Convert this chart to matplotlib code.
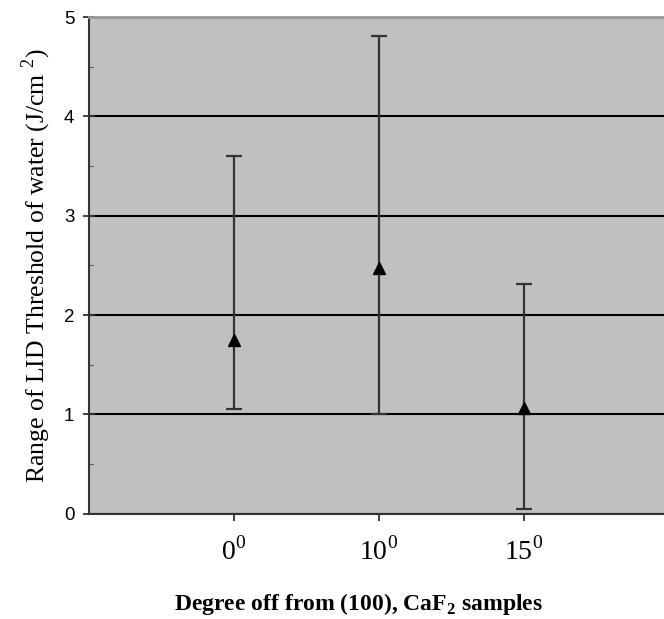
import matplotlib
matplotlib.use("Agg")
import matplotlib.pyplot as plt
from matplotlib.ticker import MultipleLocator

# values
categories = ["0$^0$", "10$^0$", "15$^0$"]
means = [1.75, 2.47, 1.06]
lows = [1.05, 1.00, 0.05]
highs = [3.60, 4.81, 2.31]

plt.rcParams["mathtext.fontset"] = "custom"
plt.rcParams["mathtext.rm"] = "Liberation Serif"
plt.rcParams["mathtext.bf"] = "Liberation Serif:bold"

fig = plt.figure(figsize=(6.64, 6.19), dpi=100)
ax = fig.add_axes([0.134, 0.170, 0.866, 0.8025])
ax.set_facecolor("#c0c0c0")

xs = list(range(1, len(categories) + 1))
err = [[m - l for m, l in zip(means, lows)], [h - m for m, h in zip(means, highs)]]
ax.errorbar(xs, means, yerr=err, fmt="^", color="black", markersize=8,
            ecolor="#333333", elinewidth=1.6, capsize=6, capthick=1.6, zorder=3)

ax.set_ylim(0, 5)
ax.set_xlim(0, 3.97)
ax.yaxis.set_major_locator(MultipleLocator(1))
ax.yaxis.set_minor_locator(MultipleLocator(0.5))
ax.grid(axis="y", color="black", linewidth=1.5)
ax.set_axisbelow(True)

ax.set_xticks(xs)
ax.set_xticklabels(categories, family="Liberation Serif", fontsize=20)
ax.tick_params(axis="x", direction="out", length=5, width=1.3, color="#333333", pad=12)
ax.tick_params(axis="y", which="major", direction="inout", length=9, width=1.3,
               color="#333333", labelsize=13.5, pad=6)
ax.tick_params(axis="y", which="minor", direction="in", length=3, width=0.8, color="#555555")
for lab in ax.get_yticklabels():
    lab.set_family("Liberation Sans")

for side in ["left", "bottom"]:
    ax.spines[side].set_color("#333333")
    ax.spines[side].set_linewidth(1.5)
ax.spines["top"].set_color("#999999")
ax.spines["top"].set_linewidth(2)
ax.spines["right"].set_visible(False)

ax.set_ylabel("Range of LID Threshold of water (J/cm $^2$)", family="Liberation Serif",
              fontsize=18.5, labelpad=8)
ax.set_xlabel(r"Degree off from (100), CaF$_\mathbf{2}$ samples", family="Liberation Serif",
              fontsize=17, fontweight="bold")
ax.xaxis.set_label_coords(0.468, -0.155)

fig.savefig("out.png", dpi=100)
